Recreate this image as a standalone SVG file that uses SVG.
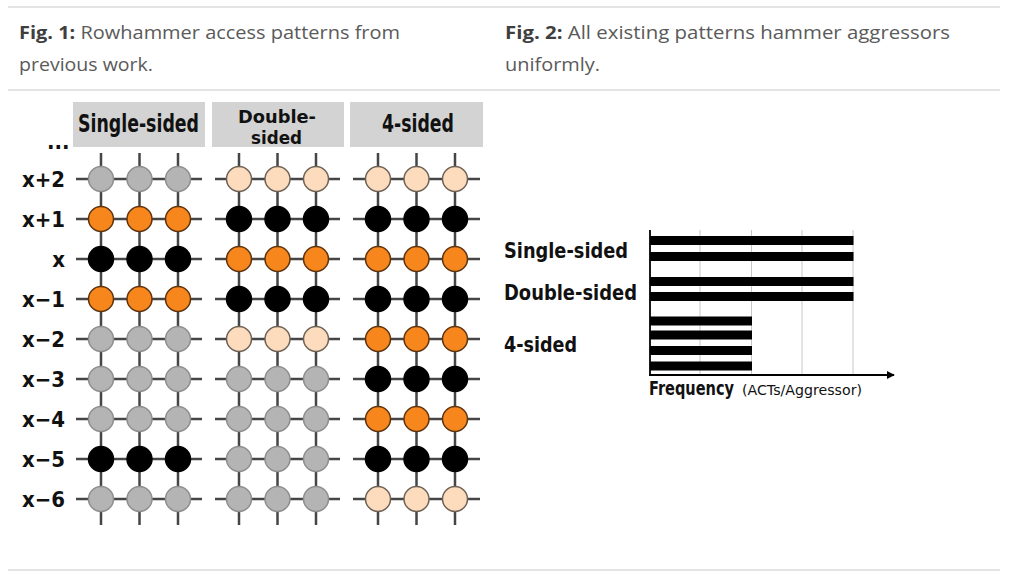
<svg xmlns="http://www.w3.org/2000/svg" width="1024" height="583" viewBox="0 0 1024 583">
<style>
.rule{stroke:#e4e4e4;stroke-width:2}
.cap{font-family:"Open Sans","Liberation Sans",sans-serif;font-size:18px;fill:#5a5a5a}
.capb{font-weight:bold;fill:#3f3f3f}
.hdr{fill:#d3d3d3}
.ht{font-family:"Liberation Sans Narrow","DejaVu Sans Condensed","Liberation Sans",sans-serif;font-weight:bold;font-size:25px;fill:#111;font-stretch:condensed}
.ht2{font-size:18px}
.rl{font-family:"Liberation Sans Narrow","DejaVu Sans Condensed","Liberation Sans",sans-serif;font-weight:bold;font-size:22px;fill:#111;text-anchor:end}
.g line{stroke:#454545;stroke-width:2.5}
.gr{fill:#b4b4b4;stroke:#8e8e8e;stroke-width:1.5}
.or{fill:#f7861c;stroke:#5e3510;stroke-width:1.5}
.bk{fill:#000;stroke:#000;stroke-width:1.5}
.pe{fill:#fddcbe;stroke:#6e6256;stroke-width:1.5}
.bar{fill:#000}
.gl{stroke:#c8c8c8;stroke-width:1}
.ax{stroke:#000;stroke-width:1.8;fill:none}
.cl{font-family:"Liberation Sans Narrow","DejaVu Sans Condensed","Liberation Sans",sans-serif;font-weight:bold;font-size:22px;fill:#111}
.fq{font-family:"Liberation Sans Narrow","DejaVu Sans Condensed","Liberation Sans",sans-serif;font-weight:bold;font-size:19px;fill:#111}
.fu{font-family:"DejaVu Sans","Liberation Sans",sans-serif;font-size:13.5px;fill:#111}
</style>
<defs>
<marker id="arr" viewBox="0 0 10 10" refX="9" refY="5" markerWidth="8" markerHeight="8" markerUnits="userSpaceOnUse" orient="auto">
<path d="M0,0 L10,5 L0,10 z" fill="#000"/>
</marker>
</defs>
<rect width="1024" height="583" fill="#fff"/>
<g id="rules">
<line class="rule" x1="8" y1="7" x2="1000" y2="7"/>
<line class="rule" x1="8" y1="90" x2="1000" y2="90"/>
<line class="rule" x1="8" y1="570" x2="1000" y2="570"/>
</g>
<g id="captions">
<text class="cap" x="19" y="39" textLength="381" lengthAdjust="spacingAndGlyphs"><tspan class="capb">Fig. 1:</tspan> Rowhammer access patterns from</text>
<text class="cap" x="19" y="71" textLength="134" lengthAdjust="spacingAndGlyphs">previous work.</text>
<text class="cap" x="505" y="39" textLength="445" lengthAdjust="spacingAndGlyphs"><tspan class="capb">Fig. 2:</tspan> All existing patterns hammer aggressors</text>
<text class="cap" x="505" y="71" textLength="95" lengthAdjust="spacingAndGlyphs">uniformly.</text>
</g>
<g id="headers">
<rect class="hdr" x="73" y="102" width="132" height="45"/>
<rect class="hdr" x="212" y="102" width="132" height="45"/>
<rect class="hdr" x="350" y="102" width="133" height="45"/>
<text class="ht" x="78" y="132" textLength="121" lengthAdjust="spacingAndGlyphs">Single-sided</text>
<text class="ht ht2" x="238" y="122.5" textLength="78" lengthAdjust="spacingAndGlyphs">Double-</text>
<text class="ht ht2" x="251" y="143.5" textLength="51" lengthAdjust="spacingAndGlyphs">sided</text>
<text class="ht" x="382" y="132" textLength="72" lengthAdjust="spacingAndGlyphs">4-sided</text>
</g>
<g id="row-labels">
<text class="rl" x="47" y="149" style="text-anchor:start">...</text>
<text class="rl" x="65" y="187" textLength="43" lengthAdjust="spacingAndGlyphs">x+2</text>
<text class="rl" x="65" y="227" textLength="43" lengthAdjust="spacingAndGlyphs">x+1</text>
<text class="rl" x="65" y="267">x</text>
<text class="rl" x="65" y="307" textLength="43" lengthAdjust="spacingAndGlyphs">x−1</text>
<text class="rl" x="65" y="347" textLength="43" lengthAdjust="spacingAndGlyphs">x−2</text>
<text class="rl" x="65" y="387" textLength="43" lengthAdjust="spacingAndGlyphs">x−3</text>
<text class="rl" x="65" y="427" textLength="43" lengthAdjust="spacingAndGlyphs">x−4</text>
<text class="rl" x="65" y="467" textLength="43" lengthAdjust="spacingAndGlyphs">x−5</text>
<text class="rl" x="65" y="507" textLength="43" lengthAdjust="spacingAndGlyphs">x−6</text>
</g>
<g id="connectors" class="g">
<line x1="101" y1="153" x2="101" y2="525"/><line x1="139.5" y1="153" x2="139.5" y2="525"/><line x1="178" y1="153" x2="178" y2="525"/>
<line x1="239" y1="153" x2="239" y2="525"/><line x1="277.5" y1="153" x2="277.5" y2="525"/><line x1="316" y1="153" x2="316" y2="525"/>
<line x1="378" y1="153" x2="378" y2="525"/><line x1="416.5" y1="153" x2="416.5" y2="525"/><line x1="455" y1="153" x2="455" y2="525"/>
<line x1="76" y1="179" x2="202" y2="179"/><line x1="215" y1="179" x2="340" y2="179"/><line x1="353" y1="179" x2="480" y2="179"/>
<line x1="76" y1="219" x2="202" y2="219"/><line x1="215" y1="219" x2="340" y2="219"/><line x1="353" y1="219" x2="480" y2="219"/>
<line x1="76" y1="259" x2="202" y2="259"/><line x1="215" y1="259" x2="340" y2="259"/><line x1="353" y1="259" x2="480" y2="259"/>
<line x1="76" y1="299" x2="202" y2="299"/><line x1="215" y1="299" x2="340" y2="299"/><line x1="353" y1="299" x2="480" y2="299"/>
<line x1="76" y1="339" x2="202" y2="339"/><line x1="215" y1="339" x2="340" y2="339"/><line x1="353" y1="339" x2="480" y2="339"/>
<line x1="76" y1="379" x2="202" y2="379"/><line x1="215" y1="379" x2="340" y2="379"/><line x1="353" y1="379" x2="480" y2="379"/>
<line x1="76" y1="419" x2="202" y2="419"/><line x1="215" y1="419" x2="340" y2="419"/><line x1="353" y1="419" x2="480" y2="419"/>
<line x1="76" y1="459" x2="202" y2="459"/><line x1="215" y1="459" x2="340" y2="459"/><line x1="353" y1="459" x2="480" y2="459"/>
<line x1="76" y1="499" x2="202" y2="499"/><line x1="215" y1="499" x2="340" y2="499"/><line x1="353" y1="499" x2="480" y2="499"/>
</g>
<g id="single-sided">
<circle class="gr" cx="101" cy="179" r="12.5"/><circle class="gr" cx="139.5" cy="179" r="12.5"/><circle class="gr" cx="178" cy="179" r="12.5"/>
<circle class="or" cx="101" cy="219" r="12.5"/><circle class="or" cx="139.5" cy="219" r="12.5"/><circle class="or" cx="178" cy="219" r="12.5"/>
<circle class="bk" cx="101" cy="259" r="12.5"/><circle class="bk" cx="139.5" cy="259" r="12.5"/><circle class="bk" cx="178" cy="259" r="12.5"/>
<circle class="or" cx="101" cy="299" r="12.5"/><circle class="or" cx="139.5" cy="299" r="12.5"/><circle class="or" cx="178" cy="299" r="12.5"/>
<circle class="gr" cx="101" cy="339" r="12.5"/><circle class="gr" cx="139.5" cy="339" r="12.5"/><circle class="gr" cx="178" cy="339" r="12.5"/>
<circle class="gr" cx="101" cy="379" r="12.5"/><circle class="gr" cx="139.5" cy="379" r="12.5"/><circle class="gr" cx="178" cy="379" r="12.5"/>
<circle class="gr" cx="101" cy="419" r="12.5"/><circle class="gr" cx="139.5" cy="419" r="12.5"/><circle class="gr" cx="178" cy="419" r="12.5"/>
<circle class="bk" cx="101" cy="459" r="12.5"/><circle class="bk" cx="139.5" cy="459" r="12.5"/><circle class="bk" cx="178" cy="459" r="12.5"/>
<circle class="gr" cx="101" cy="499" r="12.5"/><circle class="gr" cx="139.5" cy="499" r="12.5"/><circle class="gr" cx="178" cy="499" r="12.5"/>
</g>
<g id="double-sided">
<circle class="pe" cx="239" cy="179" r="12.5"/><circle class="pe" cx="277.5" cy="179" r="12.5"/><circle class="pe" cx="316" cy="179" r="12.5"/>
<circle class="bk" cx="239" cy="219" r="12.5"/><circle class="bk" cx="277.5" cy="219" r="12.5"/><circle class="bk" cx="316" cy="219" r="12.5"/>
<circle class="or" cx="239" cy="259" r="12.5"/><circle class="or" cx="277.5" cy="259" r="12.5"/><circle class="or" cx="316" cy="259" r="12.5"/>
<circle class="bk" cx="239" cy="299" r="12.5"/><circle class="bk" cx="277.5" cy="299" r="12.5"/><circle class="bk" cx="316" cy="299" r="12.5"/>
<circle class="pe" cx="239" cy="339" r="12.5"/><circle class="pe" cx="277.5" cy="339" r="12.5"/><circle class="pe" cx="316" cy="339" r="12.5"/>
<circle class="gr" cx="239" cy="379" r="12.5"/><circle class="gr" cx="277.5" cy="379" r="12.5"/><circle class="gr" cx="316" cy="379" r="12.5"/>
<circle class="gr" cx="239" cy="419" r="12.5"/><circle class="gr" cx="277.5" cy="419" r="12.5"/><circle class="gr" cx="316" cy="419" r="12.5"/>
<circle class="gr" cx="239" cy="459" r="12.5"/><circle class="gr" cx="277.5" cy="459" r="12.5"/><circle class="gr" cx="316" cy="459" r="12.5"/>
<circle class="gr" cx="239" cy="499" r="12.5"/><circle class="gr" cx="277.5" cy="499" r="12.5"/><circle class="gr" cx="316" cy="499" r="12.5"/>
</g>
<g id="four-sided">
<circle class="pe" cx="378" cy="179" r="12.5"/><circle class="pe" cx="416.5" cy="179" r="12.5"/><circle class="pe" cx="455" cy="179" r="12.5"/>
<circle class="bk" cx="378" cy="219" r="12.5"/><circle class="bk" cx="416.5" cy="219" r="12.5"/><circle class="bk" cx="455" cy="219" r="12.5"/>
<circle class="or" cx="378" cy="259" r="12.5"/><circle class="or" cx="416.5" cy="259" r="12.5"/><circle class="or" cx="455" cy="259" r="12.5"/>
<circle class="bk" cx="378" cy="299" r="12.5"/><circle class="bk" cx="416.5" cy="299" r="12.5"/><circle class="bk" cx="455" cy="299" r="12.5"/>
<circle class="or" cx="378" cy="339" r="12.5"/><circle class="or" cx="416.5" cy="339" r="12.5"/><circle class="or" cx="455" cy="339" r="12.5"/>
<circle class="bk" cx="378" cy="379" r="12.5"/><circle class="bk" cx="416.5" cy="379" r="12.5"/><circle class="bk" cx="455" cy="379" r="12.5"/>
<circle class="or" cx="378" cy="419" r="12.5"/><circle class="or" cx="416.5" cy="419" r="12.5"/><circle class="or" cx="455" cy="419" r="12.5"/>
<circle class="bk" cx="378" cy="459" r="12.5"/><circle class="bk" cx="416.5" cy="459" r="12.5"/><circle class="bk" cx="455" cy="459" r="12.5"/>
<circle class="pe" cx="378" cy="499" r="12.5"/><circle class="pe" cx="416.5" cy="499" r="12.5"/><circle class="pe" cx="455" cy="499" r="12.5"/>
</g>
<g id="chart">
<line class="gl" x1="700" y1="230" x2="700" y2="375"/>
<line class="gl" x1="751.5" y1="230" x2="751.5" y2="375"/>
<line class="gl" x1="802" y1="230" x2="802" y2="375"/>
<line class="gl" x1="853" y1="230" x2="853" y2="375"/>
<rect class="bar" x="650" y="236" width="203.5" height="9"/>
<rect class="bar" x="650" y="252" width="203.5" height="9"/>
<rect class="bar" x="650" y="277" width="203.5" height="9"/>
<rect class="bar" x="650" y="292" width="203.5" height="9"/>
<rect class="bar" x="650" y="316.5" width="102" height="9"/>
<rect class="bar" x="650" y="330.5" width="102" height="9"/>
<rect class="bar" x="650" y="346" width="102" height="9"/>
<rect class="bar" x="650" y="361.5" width="102" height="9"/>
<line class="ax" x1="650" y1="230" x2="650" y2="375"/>
<line class="ax" x1="649" y1="375" x2="894" y2="375" marker-end="url(#arr)"/>
<text class="cl" x="504" y="258" textLength="124" lengthAdjust="spacingAndGlyphs">Single-sided</text>
<text class="cl" x="504" y="300" textLength="133" lengthAdjust="spacingAndGlyphs">Double-sided</text>
<text class="cl" x="504" y="352" textLength="73" lengthAdjust="spacingAndGlyphs">4-sided</text>
<text class="fq" x="649" y="395" textLength="85" lengthAdjust="spacingAndGlyphs">Frequency</text>
<text class="fu" x="742" y="395" textLength="120" lengthAdjust="spacingAndGlyphs">(ACTs/Aggressor)</text>
</g>
</svg>
